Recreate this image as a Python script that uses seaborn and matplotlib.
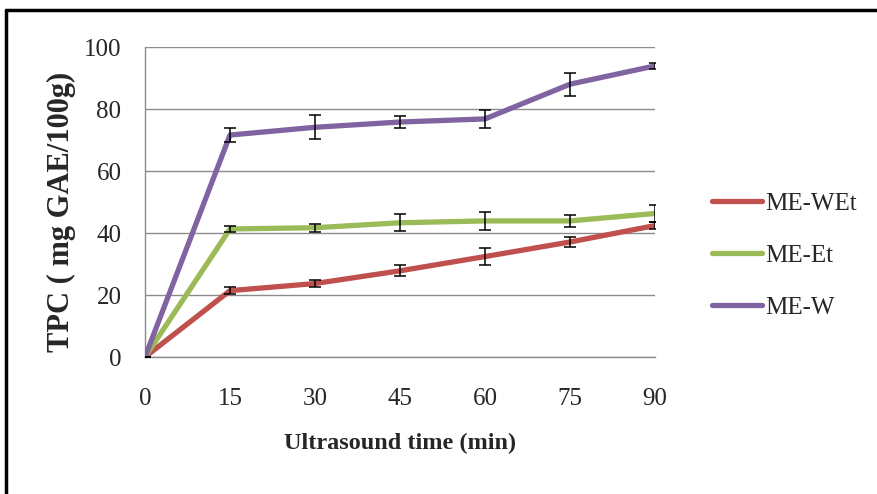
import matplotlib
matplotlib.use("Agg")
import matplotlib.pyplot as plt
from matplotlib.lines import Line2D
import numpy as np
import pandas as pd
import seaborn as sns

# Ultrasound extraction time (min)
times = [0, 15, 30, 45, 60, 75, 90]

# Total phenolic content, mg GAE/100g, with standard deviations
me_wet = [0, 21.4, 23.7, 27.8, 32.4, 37.1, 42.4]
me_wet_sd = [0, 1.2, 1.2, 1.8, 2.7, 1.7, 1.0]
me_et = [0, 41.3, 41.7, 43.3, 43.9, 43.9, 46.3]
me_et_sd = [0, 0.9, 1.3, 2.8, 3.0, 2.0, 2.8]
me_w = [0, 71.6, 74.1, 75.8, 76.8, 88.0, 93.9]
me_w_sd = [0, 2.3, 3.9, 2.0, 2.8, 3.7, 0.9]

series = ["ME-WEt", "ME-Et", "ME-W"]
palette = {"ME-WEt": "#C0504D", "ME-Et": "#9BBB59", "ME-W": "#8064A2"}

df = pd.concat([
    pd.DataFrame({"time": times, "tpc": v, "sd": s, "extract": name})
    for name, v, s in zip(series, [me_wet, me_et, me_w], [me_wet_sd, me_et_sd, me_w_sd])
])

sns.set_style("white")
plt.rcParams["font.family"] = ["Liberation Serif", "DejaVu Serif"]

fig = plt.figure(figsize=(8.78, 4.94), dpi=100)
ax = fig.add_axes([145 / 878, 1 - 357 / 494, 510 / 878, 310 / 494])

sns.lineplot(data=df, x="time", y="tpc", hue="extract", hue_order=series,
             palette=palette, linewidth=3.8, ax=ax, legend=False, zorder=3,
             solid_capstyle="round")

for name in series:
    sub = df[df["extract"] == name]
    ax.errorbar(sub["time"], sub["tpc"], yerr=sub["sd"], fmt="none",
                ecolor="black", elinewidth=1.1, capsize=4.3, capthick=1.1,
                zorder=4)

ax.set_xlim(0, 90)
ax.set_ylim(0, 100)
ax.set_xticks(times)
ax.set_yticks(np.arange(0, 101, 20))
ax.tick_params(axis="x", length=0, pad=22, labelsize=18)
ax.tick_params(axis="y", length=0, pad=17, labelsize=18)
ax.grid(axis="y", color="#8c8c8c", linewidth=1.0)
ax.set_axisbelow(True)
for side in ["top", "right"]:
    ax.spines[side].set_visible(False)
for side in ["left", "bottom"]:
    ax.spines[side].set_color("#8c8c8c")
    ax.spines[side].set_linewidth(1.0)

ax.set_xlabel("Ultrasound time (min)", fontsize=17.5, fontweight="bold",
              va="center", ha="center")
ax.set_ylabel("TPC ( mg GAE/100g)", fontsize=22, fontweight="bold",
              va="center", ha="center")
ax.xaxis.set_label_coords(0.5, (357 - 443) / 310)
ax.yaxis.set_label_coords((61 - 145) / 510, (357 - 212) / 310)

handles = [Line2D([0], [0], color=palette[n], linewidth=3.8, solid_capstyle="round")
           for n in series]
fig.legend(handles, series, loc="upper left", bbox_to_anchor=(689 / 878, 1 - 170 / 494),
           frameon=False, fontsize=18, handlelength=2.0, handletextpad=0.15,
           labelspacing=1.17)

# outer frame: top and left edges
fig.add_artist(Line2D([6 / 878, 1.0], [1 - 10.5 / 494] * 2, color="black", linewidth=2.5,
                      transform=fig.transFigure))
fig.add_artist(Line2D([6 / 878] * 2, [0, 1 - 10.5 / 494], color="black", linewidth=2.5,
                      transform=fig.transFigure))

fig.savefig("out.png", dpi=100)
